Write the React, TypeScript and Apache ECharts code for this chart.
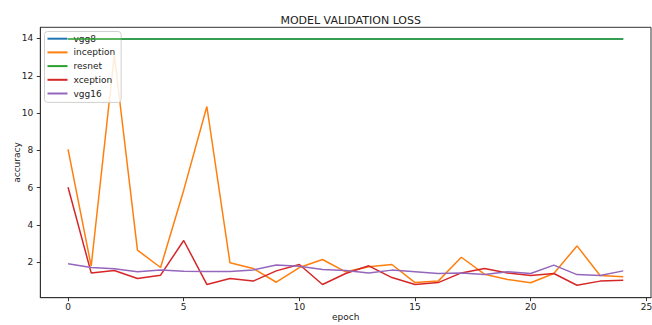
import React, { useEffect, useRef } from "react";
import * as echarts from "echarts";

const epochs = [0,1,2,3,4,5,6,7,8,9,10,11,12,13,14,15,16,17,18,19,20,21,22,23,24];
const vgg8 = [13.97,13.97,13.97,13.97,13.97,13.97,13.97,13.97,13.97,13.97,13.97,13.97,13.97,13.97,13.97,13.97,13.97,13.97,13.97,13.97,13.97,13.97,13.97,13.97,13.97];
const inception = [8.05,1.78,13.1,2.64,1.71,5.86,10.35,1.96,1.66,0.92,1.71,2.14,1.48,1.75,1.87,0.9,0.98,2.26,1.35,1.07,0.89,1.39,2.87,1.28,1.21];
const resnet = [13.97,13.97,13.97,13.97,13.97,13.97,13.97,13.97,13.97,13.97,13.97,13.97,13.97,13.97,13.97,13.97,13.97,13.97,13.97,13.97,13.97,13.97,13.97,13.97,13.97];
const xception = [6.02,1.42,1.55,1.12,1.3,3.16,0.8,1.12,0.98,1.53,1.87,0.8,1.39,1.8,1.17,0.8,0.9,1.42,1.66,1.42,1.28,1.39,0.76,0.98,1.03];
const vgg16 = [1.91,1.71,1.64,1.48,1.57,1.51,1.5,1.5,1.58,1.84,1.78,1.6,1.55,1.42,1.57,1.48,1.39,1.42,1.33,1.48,1.39,1.84,1.33,1.28,1.53];

const seriesNames = ["vgg8", "inception", "resnet", "xception", "vgg16"];
const seriesValues = [vgg8, inception, resnet, xception, vgg16];
const colors = ["#1f77b4", "#ff7f0e", "#2ca02c", "#d62728", "#9467bd"];

const xTicks = [0, 5, 10, 15, 20, 25];
const yTicks = [2, 4, 6, 8, 10, 12, 14];

const FONT = "DejaVu Sans";

export default function App() {
  const ref = useRef<HTMLDivElement>(null);
  useEffect(() => {
    if (!ref.current) return;
    const chart = echarts.init(ref.current, undefined, { renderer: "svg" });
    chart.setOption({
      animation: false,
      backgroundColor: "#ffffff",
      textStyle: { fontFamily: FONT },
      title: {
        text: "MODEL VALIDATION LOSS",
        left: 345.7,
        top: 10,
        textAlign: "center",
        textStyle: { fontFamily: FONT, fontSize: 11, fontWeight: "normal", color: "#222" },
      },
      legend: {
        orient: "vertical",
        left: 44.5,
        top: 31.5,
        data: seriesNames,
        icon: "rect",
        itemWidth: 20,
        itemHeight: 2,
        itemGap: 4.7,
        padding: [2.7, 6, 4.4, 3],
        backgroundColor: "rgba(255,255,255,0.85)",
        borderColor: "#d0d0d0",
        borderWidth: 1,
        borderRadius: 3,
        textStyle: { fontFamily: FONT, fontSize: 9, color: "#222", padding: [0, 0, 0, 1] },
      },
      grid: {
        left: 40.3,
        right: 1,
        top: 27.3,
        bottom: 27.3,
        containLabel: false,
        outerBoundsMode: "none",
        show: true,
        borderColor: "#333",
        borderWidth: 1,
        backgroundColor: "#fff",
      },
      xAxis: {
        type: "value",
        min: -1.2,
        max: 25.2,
        name: "epoch",
        nameLocation: "middle",
        nameGap: 15,
        nameMoveOverlap: false,
        nameTextStyle: { fontFamily: FONT, fontSize: 9, color: "#222" },
        axisLine: { show: true, onZero: false, lineStyle: { color: "#333", width: 1 } },
        axisTick: { show: true, length: 3.5, customValues: xTicks, lineStyle: { color: "#333" } },
        axisLabel: { customValues: xTicks, fontFamily: FONT, fontSize: 9, color: "#222", margin: 5 },
        splitLine: { show: false },
      },
      yAxis: {
        type: "value",
        min: 0.09,
        max: 14.6,
        name: "accuracy",
        nameLocation: "middle",
        nameGap: 19,
        nameMoveOverlap: false,
        nameRotate: 90,
        nameTextStyle: { fontFamily: FONT, fontSize: 9, color: "#222" },
        axisLine: { show: true, onZero: false, lineStyle: { color: "#333", width: 1 } },
        axisTick: { show: true, length: 3.5, customValues: yTicks, lineStyle: { color: "#333" } },
        axisLabel: { customValues: yTicks, fontFamily: FONT, fontSize: 9, color: "#222", margin: 7 },
        splitLine: { show: false },
      },
      series: seriesNames.map((name, i) => ({
        name,
        type: "line",
        data: epochs.map((e, j) => [e, seriesValues[i][j]]),
        showSymbol: false,
        symbol: "none",
        lineStyle: { width: 1.5, color: colors[i] },
        itemStyle: { color: colors[i] },
        z: 2 + i,
      })),
    });
    return () => chart.dispose();
  }, []);
  return (
    <div
      ref={ref}
      style={{ position: "fixed", left: 0, top: 0, width: 652, height: 325, background: "#fff" }}
    />
  );
}
